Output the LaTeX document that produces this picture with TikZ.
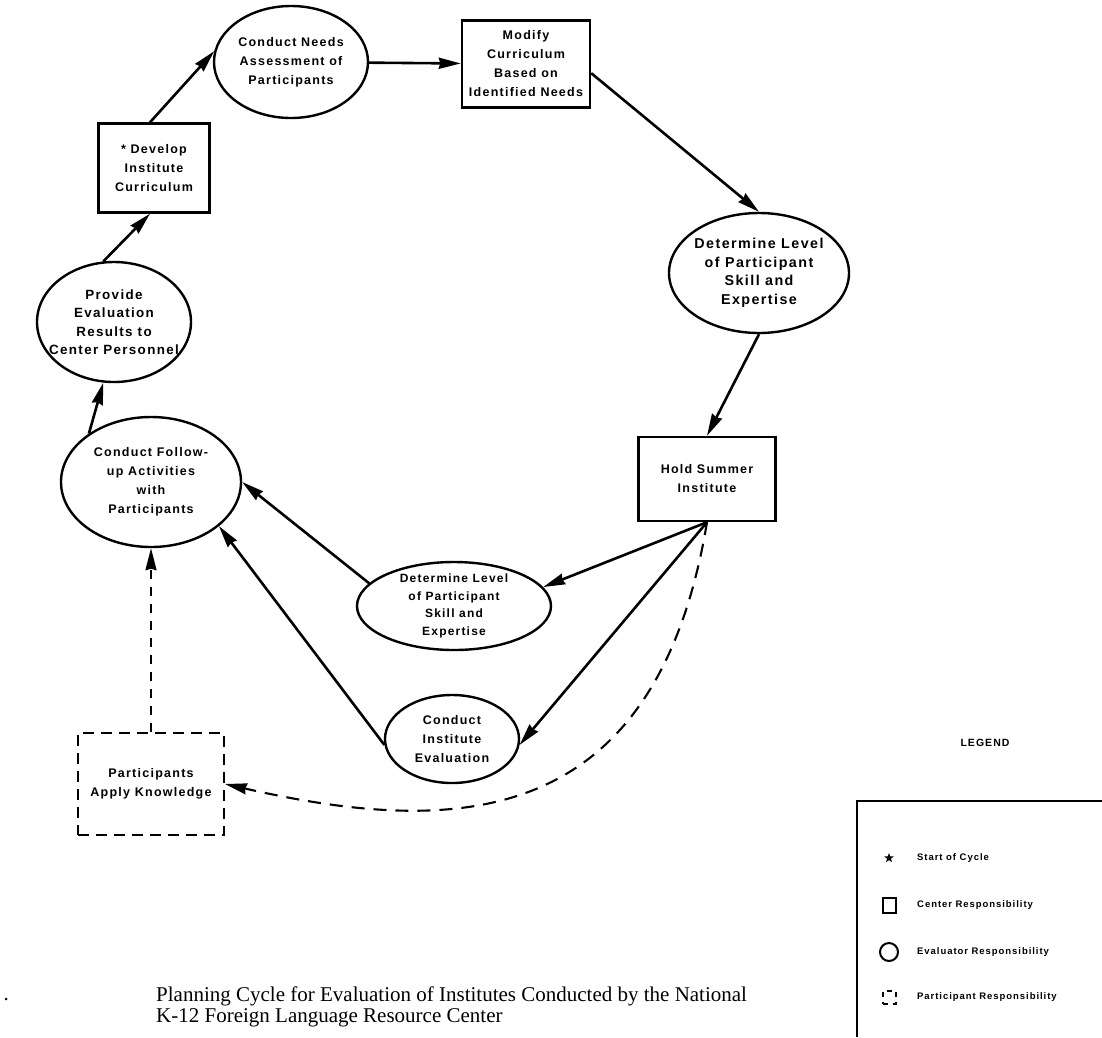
\documentclass[tikz,border=0pt]{standalone}
\usepackage{fontspec}
\setmainfont{Liberation Serif}
\newfontfamily\taskfont{Liberation Sans}[LetterSpace=10]
\usetikzlibrary{arrows.meta, positioning, shapes.geometric}
\newcommand{\tasktext}{\fontsize{12.5}{19}\taskfont\bfseries}
\newcommand{\smalltasktext}{\fontsize{12}{17.5}\taskfont\bfseries}
\newcommand{\bigtasktext}{\fontsize{14.3}{18.5}\taskfont\bfseries}
\newcommand{\legendtext}{\fontsize{9.5}{11}\taskfont\bfseries}
\newcommand{\captiontext}{\fontsize{21}{21}\selectfont}
\tikzset{
    >={Stealth[length=22pt, width=11pt, inset=1.5pt]}, % long filled heads
    flow/.style={->, line width=2.6pt}, % solid connector
    partflow/.style={->, line width=2.1pt, dash pattern=on 13pt off 9pt}, % participant connector
    centerbox/.style={draw, rectangle, line width=2.4pt, inner sep=0pt, align=center, font=\tasktext}, % center responsibility
    evalellipse/.style={draw, ellipse, line width=2.4pt, inner sep=0pt}, % evaluator responsibility
    tasklabel/.style={align=center, font=\tasktext, inner sep=0pt},
    partbox/.style={centerbox, line width=2.1pt, dash pattern=on 11pt off 7pt}, % participant responsibility
    legendlabel/.style={anchor=west, font=\legendtext, inner sep=0pt},
}

\begin{document}
\begin{tikzpicture}[x=1pt, y=-1pt]
    \useasboundingbox (0,0) rectangle (1102,1037);

    % Fasi del ciclo
    \node[centerbox, minimum width=111pt, minimum height=89pt] (A) at (154,168) {* Develop\\Institute\\Curriculum};
    \node[evalellipse, minimum width=154pt, minimum height=112pt,
        label={[tasklabel]center:{Conduct Needs\\Assessment of\\Participants}}] (B) at (291,62) {};
    \node[centerbox, minimum width=128pt, minimum height=87pt] (C) at (526,64) {Modify\\Curriculum\\Based on\\Identified Needs};
    \node[evalellipse, minimum width=180pt, minimum height=120pt,
        label={[tasklabel, font=\bigtasktext]center:{Determine Level\\of Participant\\Skill and\\Expertise}}] (D) at (759,273) {};
    \node[centerbox, minimum width=137pt, minimum height=84pt] (E) at (707,479) {Hold Summer\\Institute};
    \node[evalellipse, minimum width=194pt, minimum height=88pt,
        label={[tasklabel, font=\smalltasktext]center:{Determine Level\\of Participant\\Skill and\\Expertise}}] (F) at (454,606) {};
    \node[evalellipse, minimum width=134pt, minimum height=88pt,
        label={[tasklabel]center:{Conduct\\Institute\\Evaluation}}] (G) at (452,739) {};
    \node[partbox, minimum width=146pt, minimum height=102pt] (H) at (151,784) {Participants\\Apply Knowledge};
    \node[evalellipse, minimum width=180pt, minimum height=130pt,
        label={[tasklabel]center:{Conduct Follow-\\up Activities\\with\\Participants}}] (I) at (151,482) {};
    \node[evalellipse, minimum width=154pt, minimum height=120pt,
        label={[tasklabel, font=\fontsize{13.4}{18.5}\taskfont\bfseries]center:{Provide\\Evaluation\\Results to\\Center Personnel}}] (J) at (114,322) {};

    % Transizioni
    \path[flow]
        (A.95) edge (B.172)
        (B) edge (C)
        (C.-8) edge (D.north)
        (D.south) edge (E.north)
        (E.south) edge (F.12)
        (E.south) edge (G.-5)
        (F.165) edge (I.east)
        (G.185) edge (I.-33)
        (I.142) edge (J.-100)
        (J.100) edge (A.-95);
    \draw[partflow] (E.south) .. controls (655,835) and (450,835) .. (H.east);
    \draw[partflow, dash pattern=on 9pt off 8pt] (H) -- (I);

    % Legenda
    \node[font=\fontsize{10.5}{12}\taskfont\bfseries] (leg) at (985,743) {LEGEND};
    \draw[line width=2.4pt] (1102,801) -| (857,1037);
    \node[star, star points=5, star point ratio=2.4, fill, inner sep=0pt, minimum size=10pt] (s1) at (889,858) {};
    \node[legendlabel] (t1) at (917,858) {Start of Cycle};
    \node[draw, line width=2pt, inner sep=0pt, minimum width=13pt, minimum height=15pt] (s2) at (889,905) {};
    \node[legendlabel] (t2) at (917,905) {Center Responsibility};
    \node[draw, circle, line width=2pt, inner sep=0pt, minimum size=18pt] (s3) at (889,952) {};
    \node[legendlabel] (t3) at (917,952) {Evaluator Responsibility};
    \node[draw, line width=2pt, dash pattern=on 5pt off 5pt, inner sep=0pt, minimum size=13pt] (s4) at (889,997) {};
    \node[legendlabel] (t4) at (917,997) {Participant Responsibility};

    % Didascalia
    \node[font=\captiontext, anchor=west] (dot) at (0,1000) {.};
    \node[font=\captiontext, align=left, anchor=north west, inner sep=0pt] (cap) at (156,986)
        {Planning Cycle for Evaluation of Institutes Conducted by the National\\K-12 Foreign Language Resource Center};
\end{tikzpicture}
\end{document}
